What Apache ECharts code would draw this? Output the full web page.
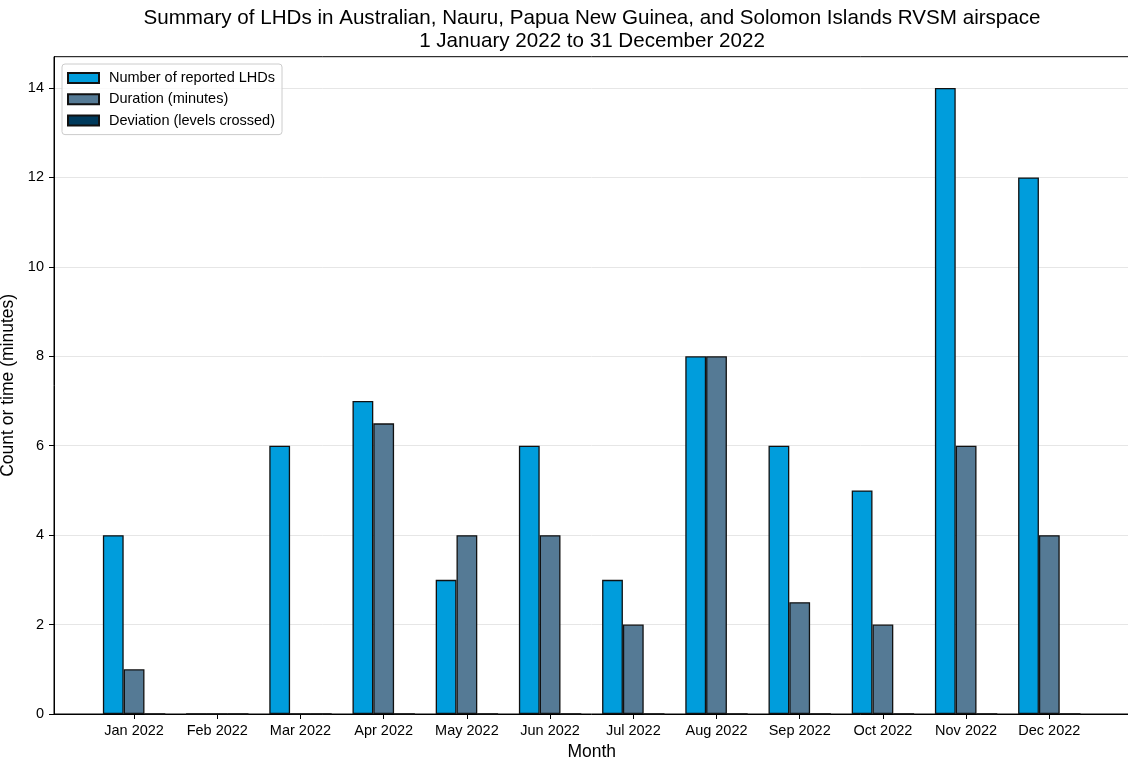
<!DOCTYPE html>
<html>
<head>
<meta charset="utf-8">
<script src="https://cdn.jsdelivr.net/npm/echarts@6/dist/echarts.min.js"></script>
<style>
  html, body { margin: 0; padding: 0; background: #fff; }
  #chart { width: 1128px; height: 765px; }
</style>
</head>
<body>
<div id="chart"></div>
<script>
// Monthly LHD summary, 2022
const months = ['Jan 2022', 'Feb 2022', 'Mar 2022', 'Apr 2022', 'May 2022', 'Jun 2022',
                'Jul 2022', 'Aug 2022', 'Sep 2022', 'Oct 2022', 'Nov 2022', 'Dec 2022'];
const reportedLHDs = [4, 0, 6, 7, 3, 6, 3, 8, 6, 5, 14, 12];
const durationMinutes = [1, 0, 0, 6.5, 4, 4, 2, 8, 2.5, 2, 6, 4];
const levelsCrossed = [0, 0, 0, 0, 0, 0, 0, 0, 0, 0, 0, 0];
const yTicks = [0, 2, 4, 6, 8, 10, 12, 14];

const FONT = '"Liberation Sans", Arial, sans-serif';
const monthIdx = months.map((_, i) => i);
const toPoints = arr => arr.map((v, i) => [i, v]);

const chart = echarts.init(document.getElementById('chart'), null, { renderer: 'canvas' });

function barSeries(name, values, color) {
  return {
    name: name,
    type: 'bar',
    data: toPoints(values),
    barWidth: '25%',
    barGap: '0%',
    itemStyle: { color: color, borderColor: '#111', borderWidth: 1.3 },
    emphasis: { disabled: true },
    animation: false
  };
}

chart.setOption({
  animation: false,
  backgroundColor: '#fff',
  title: {
    text: 'Summary of LHDs in Australian, Nauru, Papua New Guinea, and Solomon Islands RVSM airspace\n1 January 2022 to 31 December 2022',
    left: 592,
    top: 7.5,
    textAlign: 'center',
    padding: 0,
    textStyle: { fontFamily: FONT, fontSize: 20.6, fontWeight: 'normal', color: '#000', lineHeight: 22.6 }
  },
  legend: {
    orient: 'vertical',
    left: 62,
    top: 64,
    padding: [6, 7, 6, 5],
    itemWidth: 31,
    itemHeight: 10,
    itemGap: 5.3,
    icon: 'rect',
    backgroundColor: 'rgba(255,255,255,0.8)',
    borderColor: '#cccccc',
    borderWidth: 1,
    borderRadius: 3,
    textStyle: { fontFamily: FONT, fontSize: 14.5, color: '#000', lineHeight: 16, padding: [0, 0, 0, 5] },
    data: ['Number of reported LHDs', 'Duration (minutes)', 'Deviation (levels crossed)']
  },
  grid: {
    left: 54,
    top: 56.7,
    width: 1075.4,
    height: 657.3,
    containLabel: false,
    outerBoundsMode: 'none',
    show: true,
    borderColor: '#000',
    borderWidth: 1,
    backgroundColor: 'transparent'
  },
  xAxis: {
    type: 'value',
    min: -0.9625,
    max: 11.9625,
    name: 'Month',
    nameLocation: 'middle',
    nameGap: 27,
    nameTextStyle: { fontFamily: FONT, fontSize: 17.5, color: '#000' },
    axisLine: { show: true, onZero: false, lineStyle: { color: '#000', width: 1 } },
    axisTick: { show: true, length: 5, customValues: monthIdx, lineStyle: { color: '#000', width: 1 } },
    axisLabel: {
      customValues: monthIdx,
      formatter: v => months[Math.round(v)],
      margin: 9,
      fontFamily: FONT, fontSize: 14.5, color: '#000'
    },
    splitLine: { show: false }
  },
  yAxis: {
    type: 'value',
    min: 0,
    max: 14.7,
    interval: 2,
    name: 'Count or time (minutes)',
    nameLocation: 'middle',
    nameGap: 32,
    nameTextStyle: { fontFamily: FONT, fontSize: 17.5, color: '#000' },
    axisLine: { show: true, onZero: false, lineStyle: { color: '#000', width: 1 } },
    axisTick: { show: true, length: 5, customValues: yTicks, lineStyle: { color: '#000', width: 1 } },
    axisLabel: {
      customValues: yTicks,
      margin: 10,
      fontFamily: FONT, fontSize: 14.5, color: '#000'
    },
    splitLine: { show: true, lineStyle: { color: '#e6e6e6', width: 1 } }
  },
  series: [
    barSeries('Number of reported LHDs', reportedLHDs, '#009ddc'),
    barSeries('Duration (minutes)', durationMinutes, '#557a95'),
    barSeries('Deviation (levels crossed)', levelsCrossed, '#003a5c')
  ]
});
</script>
</body>
</html>
